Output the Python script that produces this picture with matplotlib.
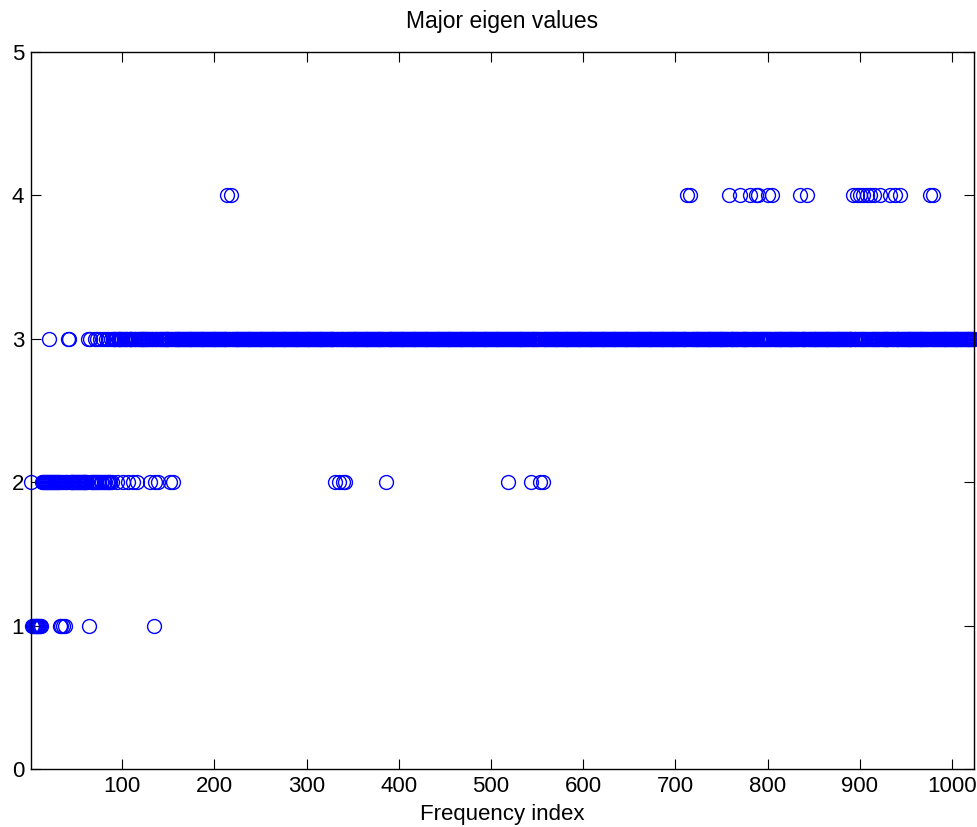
import numpy as np
import matplotlib
matplotlib.use("Agg")
import matplotlib.pyplot as plt

plt.rcParams['font.family'] = ['Liberation Sans', 'DejaVu Sans']

n_freq = 1024

# frequency indices whose major eigen value count is not 3
idx_one = [2, 3, 4, 5, 6, 7, 8, 9, 10, 11, 12, 32, 34, 36, 38, 64, 134]
idx_two = [1, 13, 14, 15, 16, 17, 18, 19, 20, 22, 23, 24, 25, 26, 27, 28,
           29, 30, 31, 33, 35, 37, 39, 40, 43, 44, 45, 46, 47, 48, 49, 50,
           51, 52, 53, 54, 55, 56, 57, 58, 59, 60, 61, 62, 66, 67, 68, 69,
           71, 72, 74, 75, 77, 78, 80, 81, 83, 84, 86, 87, 89, 94, 101, 106,
           112, 116, 130, 135, 139, 152, 155, 331, 335, 339, 342, 386, 519,
           543, 553, 556]
idx_four = [214, 218, 713, 716, 758, 770, 781, 787, 790, 801, 805, 835, 843,
            893, 897, 900, 904, 908, 911, 915, 922, 933, 938, 944, 976, 980]

freq = np.arange(1, n_freq + 1)
eig = np.full(n_freq, 3)
eig[np.array(idx_one) - 1] = 1
eig[np.array(idx_two) - 1] = 2
eig[np.array(idx_four) - 1] = 4

fig = plt.figure(figsize=(9.77, 8.27), dpi=100)
ax = fig.add_axes([31 / 977, 58 / 827, 943 / 977, 717 / 827])
ax.plot(freq, eig, 'o', markerfacecolor='none', markeredgecolor=(0, 0, 1),
        markersize=10, markeredgewidth=1.0, clip_on=False)

ax.set_xlim(1, 1024)
ax.set_ylim(0, 5)
ax.set_xticks(np.arange(100, 1001, 100))
ax.set_yticks(np.arange(0, 6, 1))
ax.tick_params(direction='in', length=7, width=0.8, top=True, right=True,
               labelsize=16, pad=5)
for s in ax.spines.values():
    s.set_linewidth(1.0)

ax.set_title('Major eigen values', fontsize=16.5, pad=17)
ax.set_xlabel('Frequency index', fontsize=16, labelpad=5)

fig.savefig('out.png', dpi=100)
